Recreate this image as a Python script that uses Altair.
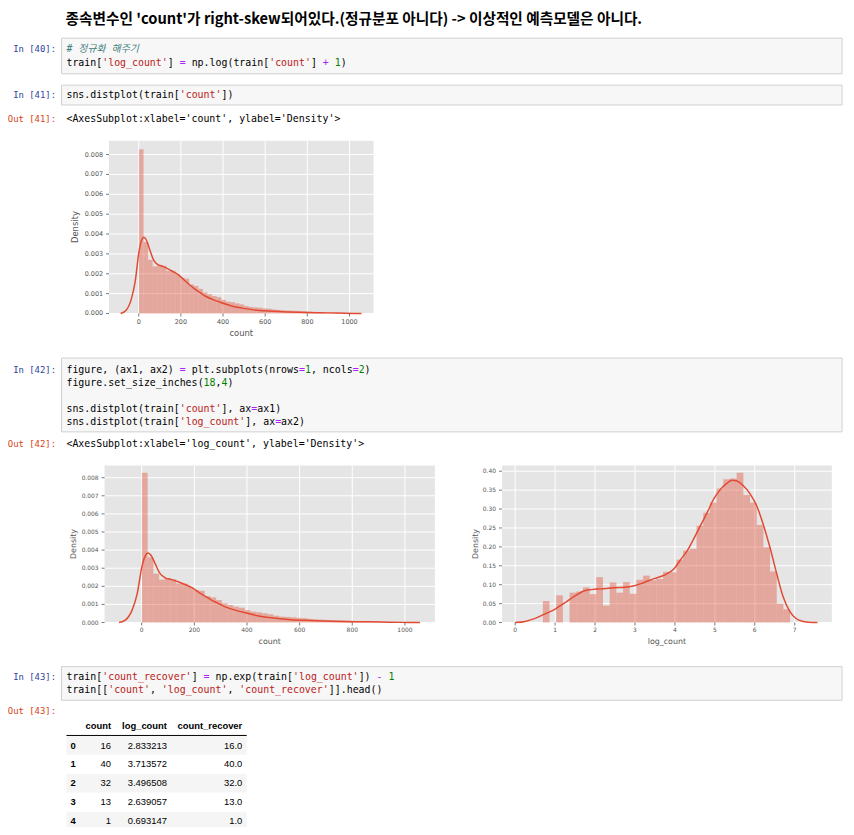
import re
import altair as alt
import pandas as pd

OX, OY = 8, 8          # page margin: chart coords = page coords - 8
W, H = 846, 819

RED = "#E24A33"
GRAY = "#555555"
MONO = '"DejaVu Sans Mono", "Noto Sans CJK KR", monospace'

# ---------------- notebook text ----------------
HEADER = "종속변수인 'count'가 right-skew되어있다.(정규분포 아니다) -> 이상적인 예측모델은 아니다."
CELL40 = ["# 정규화 해주기", "train['log_count'] = np.log(train['count'] + 1)"]
CELL41 = ["sns.distplot(train['count'])"]
OUT41 = "<AxesSubplot:xlabel='count', ylabel='Density'>"
CELL42 = ["figure, (ax1, ax2) = plt.subplots(nrows=1, ncols=2)",
          "figure.set_size_inches(18,4)",
          "",
          "sns.distplot(train['count'], ax=ax1)",
          "sns.distplot(train['log_count'], ax=ax2)"]
OUT42 = "<AxesSubplot:xlabel='log_count', ylabel='Density'>"
CELL43 = ["train['count_recover'] = np.exp(train['log_count']) - 1",
          "train[['count', 'log_count', 'count_recover']].head()"]

TABLE_COLS = ["count", "log_count", "count_recover"]
TABLE_INDEX = ["0", "1", "2", "3", "4"]
TABLE_COUNT = ["16", "40", "32", "13", "1"]
TABLE_LOG = ["2.833213", "3.713572", "3.496508", "2.639057", "0.693147"]
TABLE_REC = ["16.0", "40.0", "32.0", "13.0", "1.0"]

# ---------------- chart data ----------------
COUNT_MIN, COUNT_MAX, COUNT_BINS = 1, 977, 45
count_density = [0.00827, 0.0036, 0.0027, 0.00237, 0.00243, 0.0024, 0.00215, 0.00215,
                 0.00197, 0.0018, 0.00175, 0.00146, 0.00139, 0.00124, 0.00106, 0.00097,
                 0.00088, 0.00082, 0.00069, 0.0006, 0.00057, 0.00051, 0.00046, 0.00038,
                 0.00033, 0.00031, 0.00029, 0.00026, 0.00024, 0.0002, 0.00018, 0.00016,
                 0.00015, 0.00014, 0.00013, 0.00012, 0.00011, 0.00009, 0.00007, 0.00006,
                 0.00004, 0.00004, 0.00002, 0.00002, 0.00001]
kde_count_x = [-86, -61, -36, -17, 1, 14, 24, 36, 51, 70, 89, 114, 139, 164, 189, 214, 240,
               265, 290, 315, 352, 390, 440, 490, 565, 641, 716, 791, 866, 942, 1017, 1057]
kde_count_y = [0, 0.00015, 0.0007, 0.0016, 0.0031, 0.0037, 0.00384, 0.0037, 0.00325, 0.0027,
               0.00247, 0.00237, 0.00225, 0.0021, 0.00194, 0.0017, 0.00146, 0.00124, 0.00106,
               0.00088, 0.0007, 0.00055, 0.00038, 0.00027, 0.00016, 0.00011, 0.00007, 0.00005,
               0.00004, 0.00002, 0.000005, 0]

LOG_MIN, LOG_MAX, LOG_BINS = 0.693147, 6.885510, 37
log_density = [0.057, 0, 0.072, 0, 0.079, 0.082, 0.093, 0.075, 0.12, 0.045, 0.106, 0.079,
               0.107, 0.076, 0.113, 0.124, 0.112, 0.115, 0.134, 0.133, 0.166, 0.19, 0.195,
               0.256, 0.29, 0.317, 0.354, 0.379, 0.381, 0.396, 0.337, 0.317, 0.258, 0.199,
               0.135, 0.05, 0.035]
kde_log_x = [0, 0.25, 0.5, 0.75, 0.99, 1.24, 1.49, 1.74, 1.91, 2.15, 2.49, 2.73, 2.98, 3.23,
             3.48, 3.73, 3.98, 4.14, 4.31, 4.47, 4.64, 4.81, 4.97, 5.14, 5.30, 5.43, 5.55,
             5.72, 5.88, 6.05, 6.21, 6.38, 6.55, 6.71, 6.88, 7.04, 7.21, 7.46, 7.57]
kde_log_y = [0, 0.003, 0.011, 0.023, 0.035, 0.052, 0.07, 0.084, 0.087, 0.089, 0.092, 0.093,
             0.097, 0.106, 0.116, 0.125, 0.142, 0.166, 0.19, 0.221, 0.256, 0.291, 0.326,
             0.352, 0.368, 0.376, 0.374, 0.361, 0.341, 0.308, 0.26, 0.199, 0.129, 0.068,
             0.029, 0.01, 0.003, 0.0, 0.0]

count_xticks = [0, 200, 400, 600, 800, 1000]
count_xlabels = ["0", "200", "400", "600", "800", "1000"]
count_yticks = [0.0, 0.001, 0.002, 0.003, 0.004, 0.005, 0.006, 0.007, 0.008]
count_ylabels = ["0.000", "0.001", "0.002", "0.003", "0.004", "0.005", "0.006", "0.007", "0.008"]
log_xticks = [0, 1, 2, 3, 4, 5, 6, 7]
log_xlabels = ["0", "1", "2", "3", "4", "5", "6", "7"]
log_yticks = [0.0, 0.05, 0.10, 0.15, 0.20, 0.25, 0.30, 0.35, 0.40]
log_ylabels = ["0.00", "0.05", "0.10", "0.15", "0.20", "0.25", "0.30", "0.35", "0.40"]


def edges(lo, hi, n):
    step = (hi - lo) / n
    return [lo + i * step for i in range(n)], [lo + (i + 1) * step for i in range(n)]


# ---------------- helpers ----------------
def px(v):
    return v - OX


def py(v):
    return v - OY


def text_layer(rows, **mark):
    df = pd.DataFrame(rows)
    enc = dict(x=alt.X("x:Q", scale=None), y=alt.Y("y:Q", scale=None), text="text:N")
    if "color" in df.columns:
        enc["color"] = alt.Color("color:N", scale=None)
    return alt.Chart(df).mark_text(**mark).encode(**enc)


TOKEN_RE = re.compile(r"(?P<com>#.*)|(?P<str>'[^']*')|(?P<num>\d+)|(?P<op>[=+\-])"
                      r"|(?P<txt>[A-Za-z_][A-Za-z0-9_]*|.)")
TOKEN_COLORS = {"com": "#408080", "str": "#BA2121", "num": "#008000",
                "op": "#AA22FF", "txt": "#000000"}
CODE_X = 67
CHAR_W = 6.02


def code_rows(lines, y0, dy=13.2):
    plain, italic = [], []
    for li, line in enumerate(lines):
        col = 0
        for m in TOKEN_RE.finditer(line):
            kind = m.lastgroup
            tok = m.group()
            if tok.strip():
                row = {"x": px(CODE_X + col * CHAR_W), "y": py(y0 + li * dy),
                       "text": tok, "color": TOKEN_COLORS[kind]}
                (italic if kind == "com" else plain).append(row)
            col += len(tok)
    return plain, italic


# cells: (prompt, lines, box top, box bottom, first line y)
cells = [("In [40]:", CELL40, 34.5, 70.5, 46),
         ("In [41]:", CELL41, 82, 102, 92),
         ("In [42]:", CELL42, 357.5, 432, 369.5),
         ("In [43]:", CELL43, 669, 703, 679.5)]
outs = [("Out [41]:", OUT41, 116.5), ("Out [42]:", OUT42, 444), ("Out [43]:", "", 714)]

layers = []

# header
layers.append(text_layer([{"x": px(66), "y": py(16), "text": HEADER}],
                         align="left", baseline="middle", font="Noto Sans CJK KR",
                         fontWeight="bold", fontSize=14.8, color="#000000"))

# code boxes
box_df = pd.DataFrame([{"x0": px(62), "x1": px(850), "y0": py(t), "y1": py(b)}
                       for _, _, t, b, _ in cells])
layers.append(alt.Chart(box_df).mark_rect(fill="#F7F7F7", stroke="#CFCFCF", strokeWidth=1)
              .encode(x=alt.X("x0:Q", scale=None), x2="x1:Q",
                      y=alt.Y("y0:Q", scale=None), y2="y1:Q"))

plain_all, italic_all, prompts = [], [], []
for prompt, lines, t, b, y0 in cells:
    p, it = code_rows(lines, y0)
    plain_all += p
    italic_all += it
    prompts.append({"x": px(56.5), "y": py(y0), "text": prompt, "color": "#303F9F"})
out_texts = []
for prompt, txt, y0 in outs:
    prompts.append({"x": px(56.5), "y": py(y0), "text": prompt, "color": "#D84315"})
    if txt:
        out_texts.append({"x": px(CODE_X), "y": py(y0), "text": txt})

layers.append(text_layer(plain_all, align="left", baseline="middle", font=MONO, fontSize=10))
layers.append(text_layer(italic_all, align="left", baseline="middle", font=MONO, fontSize=10,
                         fontStyle="italic"))
layers.append(text_layer(prompts, align="right", baseline="middle", font=MONO, fontSize=9))
layers.append(text_layer(out_texts, align="left", baseline="middle", font=MONO, fontSize=10,
                         color="#000000"))

# table
ROW0, ROWH = 748.7, 19.0
TL, TR = 67, 249
stripe_df = pd.DataFrame([{"x0": px(TL), "x1": px(TR), "y0": py(ROW0 + i * ROWH - 9.3),
                           "y1": py(ROW0 + i * ROWH + 9.3)} for i in range(0, 5, 2)])
layers.append(alt.Chart(stripe_df).mark_rect(color="#F5F5F5")
              .encode(x=alt.X("x0:Q", scale=None), x2="x1:Q",
                      y=alt.Y("y0:Q", scale=None), y2="y1:Q"))
layers.append(alt.Chart(pd.DataFrame([{"x0": px(TL), "x1": px(TR), "y": py(738.5)}]))
              .mark_rule(color="#000000", strokeWidth=1)
              .encode(x=alt.X("x0:Q", scale=None), x2="x1:Q", y=alt.Y("y:Q", scale=None)))
col_right = [112, 168.5, 244.5]
head_rows = [{"x": px(col_right[i]), "y": py(729), "text": c} for i, c in enumerate(TABLE_COLS)]
layers.append(text_layer(head_rows, align="right", baseline="middle", font="Liberation Sans",
                         fontWeight="bold", fontSize=9.5, color="#000000"))
idx_rows = [{"x": px(71), "y": py(ROW0 + i * ROWH), "text": v} for i, v in enumerate(TABLE_INDEX)]
layers.append(text_layer(idx_rows, align="left", baseline="middle", font="Liberation Sans",
                         fontWeight="bold", fontSize=9.5, color="#000000"))
cell_rows = []
for ci, col in enumerate([TABLE_COUNT, TABLE_LOG, TABLE_REC]):
    for i, v in enumerate(col):
        cell_rows.append({"x": px(col_right[ci]), "y": py(ROW0 + i * ROWH), "text": v})
layers.append(text_layer(cell_rows, align="right", baseline="middle", font="Liberation Sans",
                         fontSize=9.5, color="#000000"))


# ---------------- distribution panels ----------------
def panel(lo, hi, dens, kx, ky, xdom, ydom, bx, by, xt, xl, yt, yl, xtitle,
          tfs, ttfs, xlab_dy, ytitle_dx):
    xs = alt.Scale(domain=xdom, range=[px(bx[0]), px(bx[1])], nice=False, zero=False)
    ys = alt.Scale(domain=ydom, range=[py(by[1]), py(by[0])], nice=False, zero=False)

    def X(f):
        return alt.X(f, type="quantitative", scale=xs, axis=None)

    def Y(f):
        return alt.Y(f, type="quantitative", scale=ys, axis=None)

    bg = alt.Chart(pd.DataFrame({"x0": [xdom[0]], "x1": [xdom[1]], "y0": [ydom[0]],
                                 "y1": [ydom[1]]})).mark_rect(color="#E5E5E5").encode(
        x=X("x0"), x2="x1:Q", y=Y("y0"), y2="y1:Q")
    vg = alt.Chart(pd.DataFrame({"t": xt, "y0": ydom[0], "y1": ydom[1]})).mark_rule(
        color="white", strokeWidth=1).encode(x=X("t"), y=Y("y0"), y2="y1:Q")
    hg = alt.Chart(pd.DataFrame({"t": yt, "x0": xdom[0], "x1": xdom[1]})).mark_rule(
        color="white", strokeWidth=1).encode(y=Y("t"), x=X("x0"), x2="x1:Q")
    bars = alt.Chart(pd.DataFrame({"lo": lo, "hi": hi, "d": dens, "z": 0.0})).mark_rect(
        color=RED, opacity=0.4).encode(x=X("lo"), x2="hi:Q", y=Y("z"), y2="d:Q")
    kde = alt.Chart(pd.DataFrame({"x": kx, "y": ky})).mark_line(
        color=RED, strokeWidth=1.5, interpolate="monotone").encode(x=X("x"), y=Y("y"))
    xtk = alt.Chart(pd.DataFrame({"t": xt, "a": ydom[0], "b": ydom[0]})).mark_rule(
        color=GRAY, strokeWidth=0.8, y2Offset=3).encode(x=X("t"), y=Y("a"), y2="b:Q")
    ytk = alt.Chart(pd.DataFrame({"t": yt, "a": xdom[0], "b": xdom[0]})).mark_rule(
        color=GRAY, strokeWidth=0.8, x2Offset=-3).encode(y=Y("t"), x=X("a"), x2="b:Q")
    xlab = alt.Chart(pd.DataFrame({"t": xt, "lab": xl, "a": ydom[0]})).mark_text(
        align="center", baseline="middle", dy=xlab_dy, fontSize=tfs, color=GRAY,
        font="DejaVu Sans").encode(x=X("t"), y=Y("a"), text="lab:N")
    ylab = alt.Chart(pd.DataFrame({"t": yt, "lab": yl, "a": xdom[0]})).mark_text(
        align="right", baseline="middle", dx=-6, fontSize=tfs, color=GRAY,
        font="DejaVu Sans").encode(x=X("a"), y=Y("t"), text="lab:N")
    cx = (bx[0] + bx[1]) / 2
    cy = (by[0] + by[1]) / 2
    xtit = text_layer([{"x": px(cx), "y": py(by[1] + 19.5), "text": xtitle}],
                      align="center", baseline="middle", fontSize=ttfs, color=GRAY,
                      font="DejaVu Sans")
    ytit = text_layer([{"x": px(bx[0] - ytitle_dx), "y": py(cy), "text": "Density"}],
                      align="center", baseline="middle", angle=270, fontSize=ttfs,
                      color=GRAY, font="DejaVu Sans")
    return alt.layer(bg, vg, hg, bars, kde, xtk, ytk, xlab, ylab, xtit, ytit)


c_lo, c_hi = edges(COUNT_MIN, COUNT_MAX, COUNT_BINS)
l_lo, l_hi = edges(LOG_MIN, LOG_MAX, LOG_BINS)

p1 = panel(c_lo, c_hi, count_density, kde_count_x, kde_count_y, [-141, 1114], [0, 0.0087],
           (110, 377), (138, 312.5), count_xticks, count_xlabels, count_yticks, count_ylabels,
           "count", 6.5, 8.5, 9, 34)
p2 = panel(c_lo, c_hi, count_density, kde_count_x, kde_count_y, [-141, 1114], [0, 0.00867],
           (105.5, 439), (466, 624.5), count_xticks, count_xlabels, count_yticks, count_ylabels,
           "count", 6, 8, 7.5, 30.5)
p3 = panel(l_lo, l_hi, log_density, kde_log_x, kde_log_y, [-0.33, 7.93], [0, 0.415],
           (506.7, 839.7), (466, 624.5), log_xticks, log_xlabels, log_yticks, log_ylabels,
           "log_count", 6, 8, 7.5, 26.5)

chart = alt.layer(*layers, p1, p2, p3).resolve_scale(
    x="independent", y="independent"
).properties(
    width=W, height=H, padding=0, autosize=alt.AutoSizeParams(type="none")
).configure_view(stroke=None)

chart.save("out.html", embed_options={"renderer": "svg", "actions": False})
